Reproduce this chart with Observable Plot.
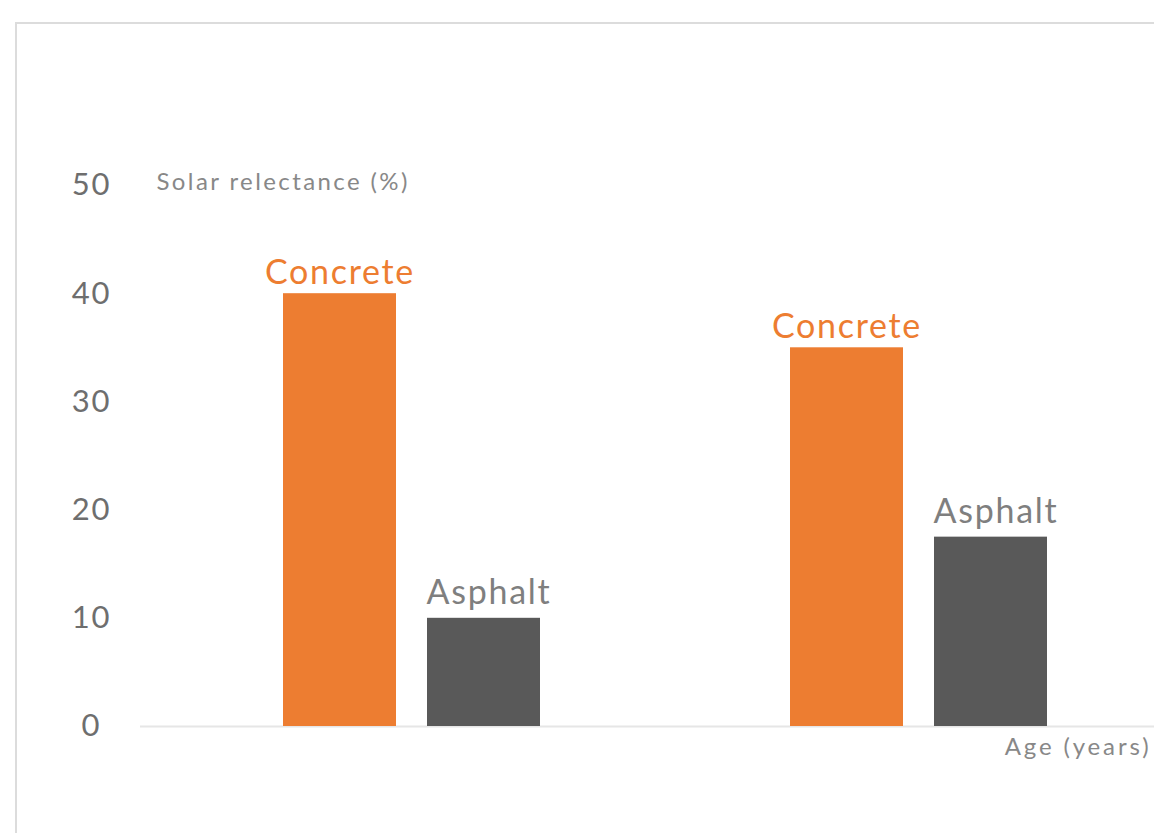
<!DOCTYPE html>
<html>
<head>
<meta charset="utf-8">
<script src="https://cdn.jsdelivr.net/npm/d3@7"></script>
<script src="https://cdn.jsdelivr.net/npm/@observablehq/plot@0.6"></script>
<style>
  html, body { margin: 0; padding: 0; background: #fff; overflow: hidden; }
  #wrap { position: relative; width: 1154px; height: 833px; }
  #frame { position: absolute; left: 15px; top: 22px; width: 1200px; height: 900px;
           border: 2px solid #dcdcdc; pointer-events: none; z-index: 2; }
  g[aria-description="bar-labels"] text { letter-spacing: 0.05em; }
  g[aria-label="y-axis tick label"] text { letter-spacing: 0.06em; }
  g[aria-description="y-title"] text { letter-spacing: 0.1em; }
  g[aria-description="x-title"] text { letter-spacing: 0.12em; }
</style>
</head>
<body>
<div id="wrap"><div id="frame"></div><div id="chart"></div></div>
<script>
// Data
const groups = ["New", "Aged"];          // hidden group keys (age)
const materials = ["Concrete", "Asphalt"];
const concreteValues = [40, 35];
const asphaltValues = [10, 17.5];
const yTicks = [0, 10, 20, 30, 40, 50];
const yLabel = "Solar relectance (%)";
const xLabel = "Age (years)";
const barColors = ["#ED7D31", "#595959"];

const data = groups.flatMap((g, i) => [
  {group: g, material: materials[0], value: concreteValues[i]},
  {group: g, material: materials[1], value: asphaltValues[i]}
]);

const font = "Lato, 'Open Sans', sans-serif";

const chart = Plot.plot({
  width: 1154,
  height: 833,
  marginLeft: 140,
  marginRight: 0,
  marginTop: 185,
  marginBottom: 107,
  style: {fontFamily: font, background: "transparent"},
  fx: {domain: groups, padding: 0, axis: null},
  x: {domain: materials, paddingInner: 0.218, paddingOuter: 0.8634, align: 0.573, axis: null},
  y: {domain: [0, 50], axis: null},
  color: {domain: materials, range: barColors},
  marks: [
    Plot.ruleY([0], {stroke: "#e6e6e6", strokeWidth: 2}),
    Plot.barY(data, {fx: "group", x: "material", y: "value", fill: "material"}),
    Plot.text(data.filter(d => d.material === materials[0]), {
      fx: "group", x: "material", y: "value", text: "material", ariaDescription: "bar-labels",
      lineAnchor: "bottom", dy: -10, fill: barColors[0], fontSize: 34
    }),
    Plot.text(data.filter(d => d.material === materials[1]), {
      fx: "group", x: "material", y: "value", text: "material", ariaDescription: "bar-labels",
      lineAnchor: "bottom", dy: -14, dx: 5, fill: "#7f7f7f", fontSize: 34
    }),
    Plot.axisY(yTicks, {
      tickSize: 0, tickPadding: 49, textAnchor: "middle", label: null,
      fontSize: 31, fill: "#6e6e6e", facetAnchor: "left"
    }),
    Plot.text([{group: groups[0], v: yTicks[yTicks.length - 1]}], {
      fx: "group", y: "v", frameAnchor: "left", textAnchor: "start", ariaDescription: "y-title",
      dx: 16, dy: -3, text: () => yLabel, fontSize: 24, fill: "#888"
    }),
    Plot.text([{group: groups[1]}], {
      fx: "group", frameAnchor: "bottom-right", textAnchor: "end", lineAnchor: "top", ariaDescription: "x-title",
      dx: -3, dy: 11, text: () => xLabel, fontSize: 24, fill: "#888"
    })
  ]
});
document.getElementById("chart").appendChild(chart);
</script>
</body>
</html>
